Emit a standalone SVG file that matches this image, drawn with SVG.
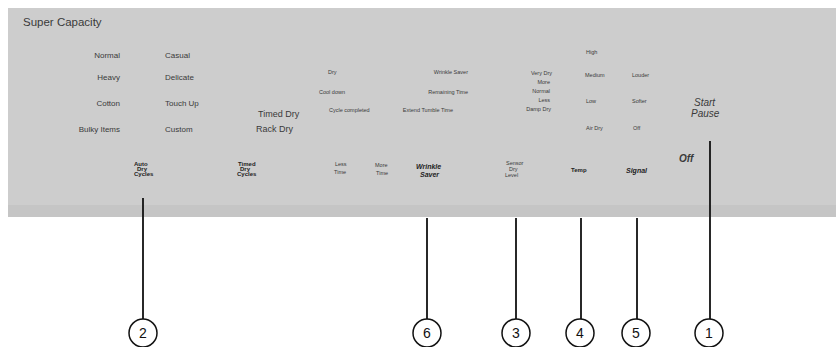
<svg xmlns="http://www.w3.org/2000/svg" width="836" height="347" viewBox="0 0 836 347">
<style>
.t{font-family:"Liberation Sans",Arial,sans-serif;fill:#3a3a3a}
.s8{font-size:8px}
.s6{font-size:5.5px}
.s9{font-size:9px}
.b{font-weight:bold;font-size:6px;fill:#222}
.bi{font-weight:bold;font-style:italic;font-size:7px;fill:#222}
.num{font-family:"Liberation Sans",Arial,sans-serif;font-size:14px;fill:#111;text-anchor:middle}
.lead{stroke:#111;stroke-width:1.8;fill:none}
.circ{fill:#fff;stroke:#111;stroke-width:1.5}
</style>
<rect width="836" height="347" fill="#fff"/>
<g id="panel">
<rect x="8" y="8" width="828" height="209" fill="#cdcdcd"/>
<rect x="8" y="205" width="828" height="12" fill="#c5c5c5"/>
<text class="t" x="23" y="26" font-size="11.5" fill="#555">Super Capacity</text>
</g>
<g id="cycles" class="t s8">
<text x="120" y="58" text-anchor="end">Normal</text>
<text x="120" y="80" text-anchor="end">Heavy</text>
<text x="120" y="106" text-anchor="end">Cotton</text>
<text x="120" y="132" text-anchor="end">Bulky Items</text>
<text x="165" y="58">Casual</text>
<text x="165" y="80">Delicate</text>
<text x="165" y="106">Touch Up</text>
<text x="165" y="132">Custom</text>
</g>
<g id="timed" class="t s9">
<text x="258" y="117">Timed Dry</text>
<text x="256" y="132">Rack Dry</text>
</g>
<g id="status" class="t s6">
<text x="328" y="74">Dry</text>
<text x="319" y="94">Cool down</text>
<text x="329" y="112">Cycle completed</text>
<text x="468" y="74" text-anchor="end">Wrinkle Saver</text>
<text x="468" y="94" text-anchor="end">Remaining Time</text>
<text x="453" y="112" text-anchor="end">Extend Tumble Time</text>
</g>
<g id="drylevel" class="t s6">
<text x="552" y="75" text-anchor="end">Very Dry</text>
<text x="550" y="84" text-anchor="end">More</text>
<text x="550" y="93" text-anchor="end">Normal</text>
<text x="550" y="102" text-anchor="end">Less</text>
<text x="551" y="111" text-anchor="end">Damp Dry</text>
</g>
<g id="temp" class="t s6">
<text x="586" y="54">High</text>
<text x="585" y="77">Medium</text>
<text x="586" y="103">Low</text>
<text x="586" y="130">Air Dry</text>
</g>
<g id="signal" class="t s6">
<text x="632" y="77">Louder</text>
<text x="632" y="103">Softer</text>
<text x="633" y="130">Off</text>
</g>
<g id="buttons">
<text class="t b" x="134" y="166">Auto</text>
<text class="t b" x="137" y="171">Dry</text>
<text class="t b" x="134" y="176">Cycles</text>
<text class="t b" x="238" y="166">Timed</text>
<text class="t b" x="240" y="171">Dry</text>
<text class="t b" x="237" y="176">Cycles</text>
<text class="t s6" x="335" y="166">Less</text>
<text class="t s6" x="334" y="174">Time</text>
<text class="t s6" x="375" y="167">More</text>
<text class="t s6" x="376" y="175">Time</text>
<text class="t bi" x="416" y="169">Wrinkle</text>
<text class="t bi" x="420" y="177">Saver</text>
<text class="t s6" x="506" y="165">Sensor</text>
<text class="t s6" x="509" y="171">Dry</text>
<text class="t s6" x="505" y="177">Level</text>
<text class="t b" x="571" y="172">Temp</text>
<text class="t bi" x="626" y="173" font-size="6.5">Signal</text>
<text class="t" x="679" y="162" font-size="10" font-weight="bold" font-style="italic" fill="#222">Off</text>
<text class="t" x="694" y="106" font-size="10" font-style="italic" fill="#222">Start</text>
<text class="t" x="691" y="117" font-size="10" font-style="italic" fill="#222">Pause</text>
</g>
<g id="connectors">
<line class="lead" x1="143" y1="198" x2="143" y2="319"/>
<line class="lead" x1="427" y1="218" x2="427" y2="319"/>
<line class="lead" x1="516" y1="218" x2="516" y2="319"/>
<line class="lead" x1="581" y1="218" x2="581" y2="319"/>
<line class="lead" x1="637" y1="218" x2="637" y2="319"/>
<line class="lead" x1="710" y1="141" x2="710" y2="319"/>
</g>
<g id="callout-2"><circle class="circ" cx="143" cy="333" r="14"/><text class="num" x="143" y="338">2</text></g>
<g id="callout-6"><circle class="circ" cx="427" cy="333" r="14"/><text class="num" x="427" y="338">6</text></g>
<g id="callout-3"><circle class="circ" cx="516" cy="333" r="14"/><text class="num" x="516" y="338">3</text></g>
<g id="callout-4"><circle class="circ" cx="580" cy="333" r="14"/><text class="num" x="580" y="338">4</text></g>
<g id="callout-5"><circle class="circ" cx="636" cy="333" r="14"/><text class="num" x="636" y="338">5</text></g>
<g id="callout-1"><circle class="circ" cx="709" cy="333" r="14"/><text class="num" x="709" y="338">1</text></g>
</svg>
